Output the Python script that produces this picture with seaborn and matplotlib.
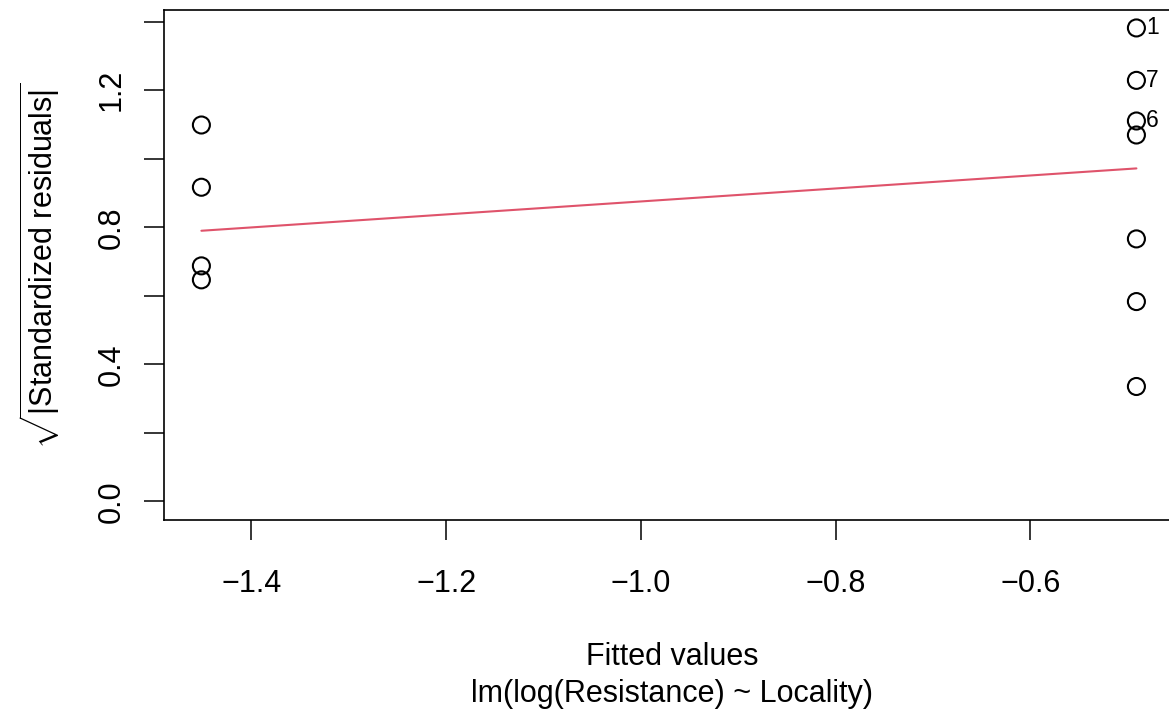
import matplotlib
matplotlib.use("Agg")
import matplotlib.pyplot as plt
import seaborn as sns
import pandas as pd
import numpy as np

# ---- data ----
fitted = [-1.4514, -1.4514, -1.4514, -1.4514,
          -0.4909, -0.4909, -0.4909, -0.4909, -0.4909, -0.4909, -0.4909]
sqrt_abs_std_resid = [1.0987, 0.9170, 0.6875, 0.6467,
                      1.3820, 1.2290, 1.1104, 1.0695, 0.7662, 0.5833, 0.3354]
point_labels = ["", "", "", "", "1", "7", "6", "", "", "", ""]
smooth_x = [-1.4514, -0.4909]
smooth_y = [0.790, 0.972]
x_ticks = [-1.4, -1.2, -1.0, -0.8, -0.6]
x_ticklabels = ["\u22121.4", "\u22121.2", "\u22121.0", "\u22120.8", "\u22120.6"]
y_ticks = [0.0, 0.2, 0.4, 0.6, 0.8, 1.0, 1.2, 1.4]
y_ticklabels = ["0.0", "", "0.4", "", "0.8", "", "1.2", ""]

df = pd.DataFrame({"fitted": fitted, "resid": sqrt_abs_std_resid, "label": point_labels})
sm = pd.DataFrame({"x": smooth_x, "y": smooth_y})

sns.set_theme(style="white")
plt.rcParams["font.family"] = ["Liberation Sans", "DejaVu Sans"]
plt.rcParams["text.color"] = "black"
plt.rcParams["axes.labelcolor"] = "black"
plt.rcParams["mathtext.fontset"] = "custom"
plt.rcParams["mathtext.rm"] = "Liberation Sans"
plt.rcParams["mathtext.it"] = "Liberation Sans"
plt.rcParams["mathtext.bf"] = "Liberation Sans"

fig = plt.figure(figsize=(11.69, 7.15), dpi=100)
ax = fig.add_axes([0.1403, 0.2723, 0.8638, 0.7141])

sns.scatterplot(data=df, x="fitted", y="resid", ax=ax, marker="o",
                facecolor="none", edgecolor="black", linewidth=1.5, s=150,
                legend=False, zorder=3)
sns.lineplot(data=sm, x="x", y="y", ax=ax, color="#DF536B", linewidth=1.5,
             legend=False, zorder=2)

for _, r in df.iterrows():
    if r["label"]:
        ax.annotate(r["label"], (r["fitted"], r["resid"]), xytext=(7, 0),
                    textcoords="offset points", ha="left", va="center",
                    fontsize=16.5, color="black")

ax.set_xlim(-1.4898, -0.4525)
ax.set_ylim(-0.0552, 1.4352)
ax.set_xticks(x_ticks)
ax.set_xticklabels(x_ticklabels)
ax.set_yticks(y_ticks)
ax.set_yticklabels(y_ticklabels, rotation=90, va="center")
ax.tick_params(axis="both", which="both", direction="out", length=14.4,
               width=1.1, color="black", labelsize=22, labelcolor="black",
               bottom=True, left=True)
ax.tick_params(axis="x", pad=21)
ax.tick_params(axis="y", pad=12.5)
for s in ax.spines.values():
    s.set_color("black")
    s.set_linewidth(1.2)
ax.set_xlabel("")
ax.set_ylabel("")
ax.grid(False)

fig.text(0.575, (715 - 665) / 715, "Fitted values", ha="center", va="baseline",
         fontsize=22, color="black")
fig.text(0.575, (715 - 702) / 715, "lm(log(Resistance) ~ Locality)", ha="center",
         va="baseline", fontsize=22, color="black")
fig.text(0.0342, 0.629, r"$\sqrt{|\mathrm{Standardized\ residuals}|}$", rotation=90,
         ha="center", va="center", fontsize=22, color="black")

fig.savefig("out.png", dpi=100)
